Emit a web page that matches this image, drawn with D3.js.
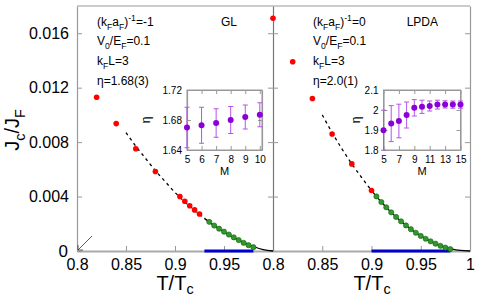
<!DOCTYPE html>
<html lang="en">
<head>
<meta charset="UTF-8">
<title>Jc/JF vs T/Tc | D3</title>
<style>
  body { margin: 0; background: #fff; }
  svg { display: block; font-family: "Liberation Sans", Arial, sans-serif; }
</style>
</head>
<body>
<div class="graph-container"></div>
<script src="https://d3js.org/d3.v7.min.js"></script>
<script>
// ---- data ----
var tempTicksLeft = [0.8, 0.85, 0.9, 0.95];
var tempTicksRight = [0.8, 0.85, 0.9, 0.95, 1];
var jTicks = [0, 0.004, 0.008, 0.012, 0.016];

// GL panel
var glRedT = [0.82, 0.84, 0.86, 0.88, 0.905, 0.91, 0.915, 0.92, 0.925];
var glRedJ = [0.0113, 0.00936, 0.00751, 0.00584, 0.0040, 0.00366, 0.00333, 0.00302, 0.00272];
var glGreenT = [0.935, 0.94, 0.945, 0.95, 0.955, 0.96, 0.965, 0.97, 0.975, 0.98];
var glGreenJ = [0.00214, 0.00187, 0.00164, 0.00142, 0.00121, 0.00100, 0.00080, 0.00060, 0.00043, 0.00028];
var glDashT = [0.85, 0.86, 0.87, 0.88, 0.89, 0.90, 0.91, 0.92, 0.93];
var glDashJ = [0.0087, 0.0077, 0.0068, 0.0059, 0.0051, 0.0043, 0.0036, 0.0030, 0.0024];
var glFitT = [0.93, 0.94, 0.95, 0.96, 0.97, 0.98, 0.99, 1.0];
var glFitJ = [0.0024, 0.00187, 0.0014, 0.00099, 0.00063, 0.00033, 0.0001, 0];
var glWindow = [0.93, 0.98];

// LPDA panel
var lpdaRedT = [0.8, 0.82, 0.84, 0.86, 0.88, 0.9];
var lpdaRedJ = [0.0171, 0.0139, 0.0112, 0.0086, 0.0064, 0.00444];
var lpdaGreenT = [0.905, 0.91, 0.915, 0.92, 0.925, 0.93, 0.935, 0.94, 0.945, 0.95, 0.955, 0.96, 0.965, 0.97, 0.975, 0.98];
var lpdaGreenJ = [0.00401, 0.00360, 0.00321, 0.00284, 0.00250, 0.00218, 0.00188, 0.00160, 0.00134, 0.00111, 0.00090, 0.00071, 0.00054, 0.00038, 0.00025, 0.00014];
var lpdaDashT = [0.85, 0.86, 0.87, 0.88, 0.89, 0.9];
var lpdaDashJ = [0.0100, 0.0087, 0.0075, 0.0064, 0.0054, 0.00444];
var lpdaFitT = [0.9, 0.91, 0.92, 0.93, 0.94, 0.95, 0.96, 0.97, 0.98, 0.99, 1.0];
var lpdaFitJ = [0.00444, 0.0036, 0.00284, 0.00218, 0.0016, 0.00111, 0.00071, 0.0004, 0.00018, 0.00004, 0];
var lpdaWindow = [0.9, 0.98];

// insets: eta vs M
var glM = [5, 6, 7, 8, 9, 10];
var glEta = [1.670, 1.673, 1.676, 1.680, 1.684, 1.687];
var glEtaErr = [0.027, 0.024, 0.019, 0.018, 0.016, 0.016];
var glInsetMTicks = [5, 6, 7, 8, 9, 10];
var glInsetEtaTicks = [1.64, 1.68, 1.72];

var lpdaM = [5, 6, 7, 8, 9, 10, 11, 12, 13, 14, 15];
var lpdaEta = [1.899, 1.932, 1.945, 1.975, 2.011, 2.016, 2.020, 2.027, 2.028, 2.027, 2.027];
var lpdaEtaErr = [0.1, 0.09, 0.084, 0.065, 0.041, 0.033, 0.025, 0.022, 0.018, 0.018, 0.018];
var lpdaInsetMTicks = [5, 7, 9, 11, 13, 15];
var lpdaInsetEtaTicks = [1.8, 1.9, 2, 2.1];

// ---- layout ----
var width = 480, height = 300;
var frameColor = "#999";
var red = "#ff0000", green = "#2f9a2a", greenEdge = "#1b5e14", purple = "#8a00d6", purpleBar = "#b455e6";

var svg = d3.select(".graph-container").append("svg")
    .attr("width", width)
    .attr("height", height);

var y = d3.scaleLinear().domain([0, 0.018]).range([251, 6]);
var xL = d3.scaleLinear().domain([0.8, 1.0]).range([77, 273]);
var xR = d3.scaleLinear().domain([0.8, 1.0]).range([273, 470]);

function plain(d) { return String(d); }

function styleAxis(g, size) {
    g.attr("font-family", null).attr("font-size", size);
    g.select(".domain").attr("stroke", frameColor).attr("stroke-width", 1.2);
    g.selectAll(".tick line").attr("stroke", frameColor).attr("stroke-width", 1);
    g.selectAll(".tick text").attr("fill", "#000");
}

// rich text with sub/superscripts: parts = [[text, "n"|"sub"|"sup"], ...]
function richText(parent, x, yy, parts, size, anchor, subShift) {
    var t = parent.append("text").attr("x", x).attr("y", yy)
        .attr("font-size", size).attr("text-anchor", anchor || "start");
    var shift = 0;
    parts.forEach(function(p) {
        var target = p[1] === "sub" ? size * (subShift || 0.3) : p[1] === "sup" ? -size * 0.4 : 0;
        t.append("tspan")
            .attr("dy", target - shift)
            .attr("font-size", p[1] === "n" ? size : size * 0.72)
            .text(p[0]);
        shift = target;
    });
    return t;
}

function zip(a, b) { return a.map(function(d, i) { return [d, b[i]]; }); }

function drawPanel(x, p) {
    var g = svg.append("g");

    // fitted curves
    var line = d3.line().x(function(d) { return x(d[0]); }).y(function(d) { return y(d[1]); })
        .curve(d3.curveMonotoneX);
    g.append("path").datum(zip(p.dashT, p.dashJ)).attr("d", line)
        .attr("fill", "none").attr("stroke", "#000").attr("stroke-width", 1.3)
        .attr("stroke-dasharray", "3,3.5");
    g.append("path").datum(zip(p.fitT, p.fitJ)).attr("d", line)
        .attr("fill", "none").attr("stroke", "#000").attr("stroke-width", 1.3);

    // fit window on the axis
    g.append("line")
        .attr("x1", x(p.window[0])).attr("x2", x(p.window[1]))
        .attr("y1", y(0)).attr("y2", y(0))
        .attr("stroke", "#0000cc").attr("stroke-width", 3);

    g.append("g").selectAll("circle").data(zip(p.redT, p.redJ)).enter()
        .append("circle")
        .attr("cx", function(d) { return x(d[0]); })
        .attr("cy", function(d) { return y(d[1]); })
        .attr("r", 2.8).attr("fill", red);

    g.append("g").selectAll("circle").data(zip(p.greenT, p.greenJ)).enter()
        .append("circle")
        .attr("cx", function(d) { return x(d[0]); })
        .attr("cy", function(d) { return y(d[1]); })
        .attr("r", 2.6).attr("fill", green)
        .attr("stroke", greenEdge).attr("stroke-width", 0.6);
}

// frame + axes
var xAxisL = svg.append("g").attr("transform", "translate(0," + y(0) + ")")
    .call(d3.axisBottom(xL).tickValues(tempTicksLeft).tickFormat(plain).tickSize(-5).tickSizeOuter(0).tickPadding(8));
styleAxis(xAxisL, 16);
var xAxisR = svg.append("g").attr("transform", "translate(0," + y(0) + ")")
    .call(d3.axisBottom(xR).tickValues(tempTicksRight).tickFormat(plain).tickSize(-5).tickSizeOuter(0).tickPadding(8));
styleAxis(xAxisR, 16);
xAxisL.select(".domain").attr("stroke", "#aaa").attr("stroke-width", 2);
xAxisR.select(".domain").attr("stroke", "#aaa").attr("stroke-width", 2);

var yAxis = svg.append("g").attr("transform", "translate(" + xL(0.8) + ",0)")
    .call(d3.axisLeft(y).tickValues(jTicks).tickFormat(function(d) { return d === 0 ? "0" : d3.format(".3f")(d); })
        .tickSize(-5).tickSizeOuter(0).tickPadding(8));
styleAxis(yAxis, 16);
yAxis.selectAll(".tick").filter(function(d) { return d === 0; }).select("text").attr("x", -9).attr("font-size", 17);

var divA = svg.append("g").attr("transform", "translate(" + xR(0.8) + ",0)")
    .call(d3.axisLeft(y).tickValues(jTicks.slice(1)).tickFormat("").tickSize(-5).tickSizeOuter(0));
styleAxis(divA, 10);
divA.select(".domain").attr("stroke", "#777");
var divB = svg.append("g").attr("transform", "translate(" + xR(0.8) + ",0)")
    .call(d3.axisRight(y).tickValues(jTicks.slice(1)).tickFormat("").tickSize(-5).tickSizeOuter(0));
styleAxis(divB, 10);
divB.select(".domain").remove();
var rightAxis = svg.append("g").attr("transform", "translate(" + xR(1.0) + ",0)")
    .call(d3.axisRight(y).tickValues(jTicks.slice(1)).tickFormat("").tickSize(-5).tickSizeOuter(0));
styleAxis(rightAxis, 10);
svg.append("line").attr("x1", xL(0.8)).attr("x2", xR(1.0)).attr("y1", y(0.018)).attr("y2", y(0.018))
    .attr("stroke", frameColor).attr("stroke-width", 1.2);

drawPanel(xL, { redT: glRedT, redJ: glRedJ, greenT: glGreenT, greenJ: glGreenJ,
    dashT: glDashT, dashJ: glDashJ, fitT: glFitT, fitJ: glFitJ, window: glWindow });
drawPanel(xR, { redT: lpdaRedT, redJ: lpdaRedJ, greenT: lpdaGreenT, greenJ: lpdaGreenJ,
    dashT: lpdaDashT, dashJ: lpdaDashJ, fitT: lpdaFitT, fitJ: lpdaFitJ, window: lpdaWindow });

// arrow pointing at the origin
var ax0 = xL(0.8) + 1, ay0 = y(0) - 1;
svg.append("line")
    .attr("x1", ax0 + 14).attr("y1", ay0 - 14)
    .attr("x2", ax0).attr("y2", ay0)
    .attr("stroke", "#333").attr("stroke-width", 0.8);
svg.append("path")
    .attr("d", "M" + (ax0 + 5) + "," + ay0 + " L" + ax0 + "," + ay0 + " L" + ax0 + "," + (ay0 - 5))
    .attr("fill", "none").attr("stroke", "#333").attr("stroke-width", 0.8);

// axis titles
richText(svg, 175, 290, [["T/T", "n"], ["c", "sub"]], 20, "middle", 0.22);
richText(svg, 372, 290, [["T/T", "n"], ["c", "sub"]], 20, "middle", 0.22);
var yTitle = svg.append("g").attr("transform", "translate(19,130) rotate(-90)");
richText(yTitle, 0, 0, [["J", "n"], ["c", "sub"], ["/J", "n"], ["F", "sub"]], 20, "middle");

// annotations
function annotate(x0, invA, eta, model, modelRight) {
    richText(svg, x0, 26, [["(k", "n"], ["F", "sub"], ["a", "n"], ["F", "sub"], [")", "n"], ["-1", "sup"], ["=" + invA, "n"]], 12);
    richText(svg, x0, 45, [["V", "n"], ["0", "sub"], ["/E", "n"], ["F", "sub"], ["=0.1", "n"]], 12);
    richText(svg, x0, 65, [["k", "n"], ["F", "sub"], ["L=3", "n"]], 12);
    richText(svg, x0, 85, [["\u03b7=" + eta, "n"]], 12);
    svg.append("text").attr("x", modelRight).attr("y", 26).attr("text-anchor", "end")
        .attr("font-size", 12).text(model);
}
annotate(97, "-1", "1.68(3)", "GL", 237);
annotate(313, "0", "2.0(1)", "LPDA", 438);

// insets
function drawInset(cfg) {
    var ix = d3.scaleLinear().domain(cfg.mDomain).range(cfg.xRange);
    var iy = d3.scaleLinear().domain(cfg.etaDomain).range([150, 90]);
    var g = svg.append("g");
    g.append("rect").attr("x", cfg.xRange[0]).attr("y", 90)
        .attr("width", cfg.xRange[1] - cfg.xRange[0]).attr("height", 60)
        .attr("fill", "#fff").attr("stroke", frameColor).attr("stroke-width", 1);

    var ax = g.append("g").attr("transform", "translate(0,150)")
        .call(d3.axisBottom(ix).tickValues(cfg.mTicks).tickFormat(plain).tickSize(-4).tickSizeOuter(0).tickPadding(6));
    styleAxis(ax, 10);
    var axT = g.append("g").attr("transform", "translate(0,90)")
        .call(d3.axisTop(ix).tickValues(cfg.mTicks).tickFormat("").tickSize(-4).tickSizeOuter(0));
    styleAxis(axT, 10);
    var ay = g.append("g").attr("transform", "translate(" + cfg.xRange[0] + ",0)")
        .call(d3.axisLeft(iy).tickValues(cfg.etaTicks).tickFormat(plain).tickSize(-4).tickSizeOuter(0).tickPadding(5));
    styleAxis(ay, 10);
    var ayR = g.append("g").attr("transform", "translate(" + cfg.xRange[1] + ",0)")
        .call(d3.axisRight(iy).tickValues(cfg.etaTicks).tickFormat("").tickSize(-4).tickSizeOuter(0));
    styleAxis(ayR, 10);

    g.append("text").attr("x", (cfg.xRange[0] + cfg.xRange[1]) / 2).attr("y", 175)
        .attr("text-anchor", "middle").attr("font-size", 11).text("M");
    g.append("text").attr("transform", "translate(" + cfg.etaLabelX + ",120) rotate(-90)")
        .attr("text-anchor", "middle").attr("font-size", 12).text("\u03b7");

    var pts = cfg.m.map(function(d, i) { return { m: d, eta: cfg.eta[i], err: cfg.err[i] }; });
    var bars = g.append("g").attr("stroke", purpleBar).attr("stroke-width", 1);
    bars.selectAll(".bar").data(pts).enter().append("line")
        .attr("x1", function(d) { return ix(d.m); }).attr("x2", function(d) { return ix(d.m); })
        .attr("y1", function(d) { return iy(d.eta - d.err); })
        .attr("y2", function(d) { return iy(d.eta + d.err); });
    [-1, 1].forEach(function(s) {
        bars.selectAll(".cap" + s).data(pts).enter().append("line")
            .attr("x1", function(d) { return ix(d.m) - 2.5; }).attr("x2", function(d) { return ix(d.m) + 2.5; })
            .attr("y1", function(d) { return iy(d.eta + s * d.err); })
            .attr("y2", function(d) { return iy(d.eta + s * d.err); });
    });
    g.append("g").selectAll("circle").data(pts).enter().append("circle")
        .attr("cx", function(d) { return ix(d.m); })
        .attr("cy", function(d) { return iy(d.eta); })
        .attr("r", 3).attr("fill", purple);
}

drawInset({ m: glM, eta: glEta, err: glEtaErr, mDomain: [5, 10.15], xRange: [187, 262],
    etaDomain: [1.64, 1.72], mTicks: glInsetMTicks, etaTicks: glInsetEtaTicks, etaLabelX: 150 });
drawInset({ m: lpdaM, eta: lpdaEta, err: lpdaEtaErr, mDomain: [5, 15], xRange: [383.5, 460.5],
    etaDomain: [1.8, 2.1], mTicks: lpdaInsetMTicks, etaTicks: lpdaInsetEtaTicks, etaLabelX: 360 });
</script>
</body>
</html>
